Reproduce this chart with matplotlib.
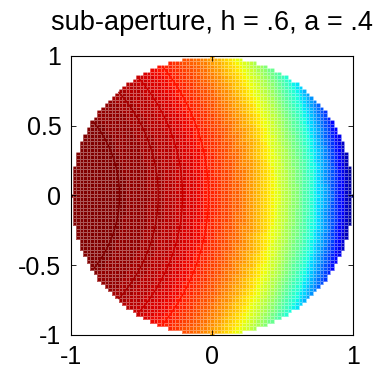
import matplotlib.pyplot as plt
import numpy as np

plt.rcParams['font.family'] = ['Liberation Sans', 'DejaVu Sans']
plt.rcParams['axes.unicode_minus'] = False

# sub-aperture parameters (from the title)
h = 0.6
a = 0.4
n_grid = 81

# contour levels of the normalised wavefront
contour_levels = [0.879, 0.929, 0.960, 0.987]

x_ticks = [-1, 0, 1]
x_tick_labels = ['-1', '0', '1']
y_ticks = [-1, -0.5, 0, 0.5, 1]
y_tick_labels = ['-1', '-0.5', '0', '0.5', '1']

# sample nodes over the sub-aperture, mapped back into the full pupil
nodes = np.linspace(-1, 1, n_grid)
step = nodes[1] - nodes[0]
edges = np.append(nodes - step / 2, nodes[-1] + step / 2)
xn, yn = np.meshgrid(nodes, nodes)
R = np.hypot(h + a * xn, a * yn)
W = 1 - R ** 4
W = np.ma.masked_where(xn ** 2 + yn ** 2 > 1 + 1e-9, W)

fig = plt.figure(figsize=(3.86, 3.73), dpi=100)
ax = fig.add_axes([0.184, 0.102, 0.731, 0.748])

cmap = plt.get_cmap('jet', 64)
ax.pcolormesh(edges, edges, W, cmap=cmap, vmin=0, vmax=1,
              edgecolors=(1, 1, 1, 0.35), linewidth=0.5)

xf, yf = np.meshgrid(np.linspace(-1, 1, 301), np.linspace(-1, 1, 301))
Wf = 1 - np.hypot(h + a * xf, a * yf) ** 4
Wf = np.ma.masked_where(xf ** 2 + yf ** 2 > 0.995, Wf)
ax.contour(xf, yf, Wf, levels=contour_levels, cmap=cmap, vmin=0, vmax=1,
           linewidths=1.0)

ax.set_xlim(-1, 1)
ax.set_ylim(-1, 1)
ax.set_xticks(x_ticks)
ax.set_xticklabels(x_tick_labels)
ax.set_yticks(y_ticks)
ax.set_yticklabels(y_tick_labels)
ax.tick_params(direction='in', length=3.5, width=0.6, labelsize=18,
               top=True, right=True, pad=7)
for s in ax.spines.values():
    s.set_linewidth(0.8)
ax.set_title('sub-aperture, h = .6, a = .4', fontsize=19.5, pad=19)

plt.savefig('out.png', dpi=100)
